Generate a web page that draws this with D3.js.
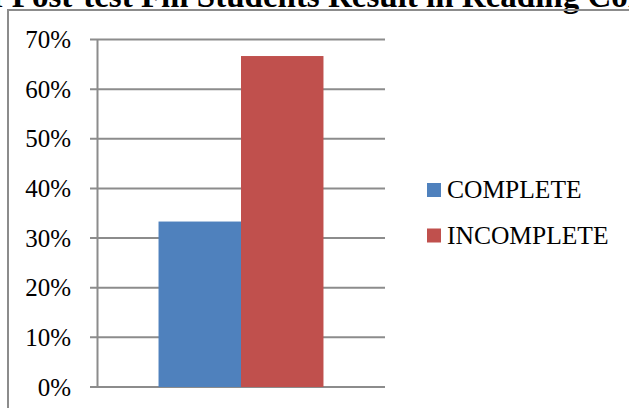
<!DOCTYPE html>
<html>
<head>
<meta charset="utf-8">
<script src="https://cdn.jsdelivr.net/npm/d3@7"></script>
<style>
  html, body { margin: 0; padding: 0; background: #fff; }
  svg { display: block; }
  svg text { font-family: "Liberation Serif", "Times New Roman", serif; }
</style>
</head>
<body>
<svg id="chart" width="629" height="408"></svg>
<script>
// Post-test result shares
const categories = ["Post-test"];
const seriesNames = ["COMPLETE", "INCOMPLETE"];
const seriesValues = [0.3333, 0.6667];
const seriesColors = ["#4f81bd", "#c0504d"];
const tickValues = [0, 0.1, 0.2, 0.3, 0.4, 0.5, 0.6, 0.7];
const titleText = "of Post-test Fm Students Result in Reading Comprehension";

const svg = d3.select("#chart");
const serif = "'Liberation Serif', 'Times New Roman', serif";

// Title (runs past the top edge)
svg.append("text")
  .attr("x", -24)
  .attr("y", 7)
  .style("font-family", serif)
  .style("font-size", "33px")
  .style("font-weight", "bold")
  .attr("fill", "#000")
  .text(titleText);

// Outer chart frame
svg.append("rect")
  .attr("x", 8).attr("y", 10)
  .attr("width", 700).attr("height", 500)
  .attr("fill", "none")
  .attr("stroke", "#8c8c8c")
  .attr("stroke-width", 2);

const plot = { left: 97, right: 385, top: 39.5, bottom: 387 };

const y = d3.scaleLinear().domain([0, 0.7]).range([plot.bottom, plot.top]);
const x0 = d3.scaleBand().domain(categories).range([plot.left, plot.right]).paddingInner(0).paddingOuter(0.373);
const x1 = d3.scaleBand().domain(seriesNames).range([0, x0.bandwidth()]);

// Gridlines with tick stubs
svg.append("g")
  .selectAll("line")
  .data(tickValues)
  .join("line")
  .attr("x1", plot.left - 7)
  .attr("x2", plot.right)
  .attr("y1", d => y(d))
  .attr("y2", d => y(d))
  .attr("stroke", "#8c8c8c")
  .attr("stroke-width", 2);

// Bars
const groups = svg.append("g")
  .selectAll("g")
  .data(categories)
  .join("g")
  .attr("transform", d => `translate(${x0(d)},0)`);

groups.selectAll("rect")
  .data(() => seriesNames.map((s, i) => ({ s, v: seriesValues[i], c: seriesColors[i] })))
  .join("rect")
  .attr("x", d => x1(d.s))
  .attr("y", d => y(d.v))
  .attr("width", x1.bandwidth())
  .attr("height", d => y(0) - y(d.v))
  .attr("fill", d => d.c);

// Y axis labels
const yAxis = d3.axisLeft(y)
  .tickValues(tickValues)
  .tickFormat(d3.format(".0%"))
  .tickSize(0)
  .tickPadding(26);

const ag = svg.append("g")
  .attr("transform", `translate(${plot.left},0)`)
  .call(yAxis);
ag.select(".domain").remove();
ag.attr("font-family", null).attr("font-size", null);
ag.selectAll("text")
  .style("font-family", serif)
  .style("font-size", "25px")
  .attr("fill", "#000");

svg.append("line")
  .attr("x1", plot.left + 0.5).attr("x2", plot.left + 0.5)
  .attr("y1", plot.top).attr("y2", plot.bottom)
  .attr("stroke", "#8c8c8c")
  .attr("stroke-width", 2);

// Legend
const legend = svg.append("g")
  .selectAll("g")
  .data(seriesNames)
  .join("g")
  .attr("transform", (d, i) => `translate(427,${183 + i * 45.5})`);

legend.append("rect")
  .attr("width", 14).attr("height", 14)
  .attr("fill", (d, i) => seriesColors[i]);

legend.append("text")
  .attr("x", 20)
  .attr("y", 15)
  .style("font-family", serif)
  .style("font-size", "25.5px")
  .attr("fill", "#000")
  .text(d => d);
</script>
</body>
</html>
